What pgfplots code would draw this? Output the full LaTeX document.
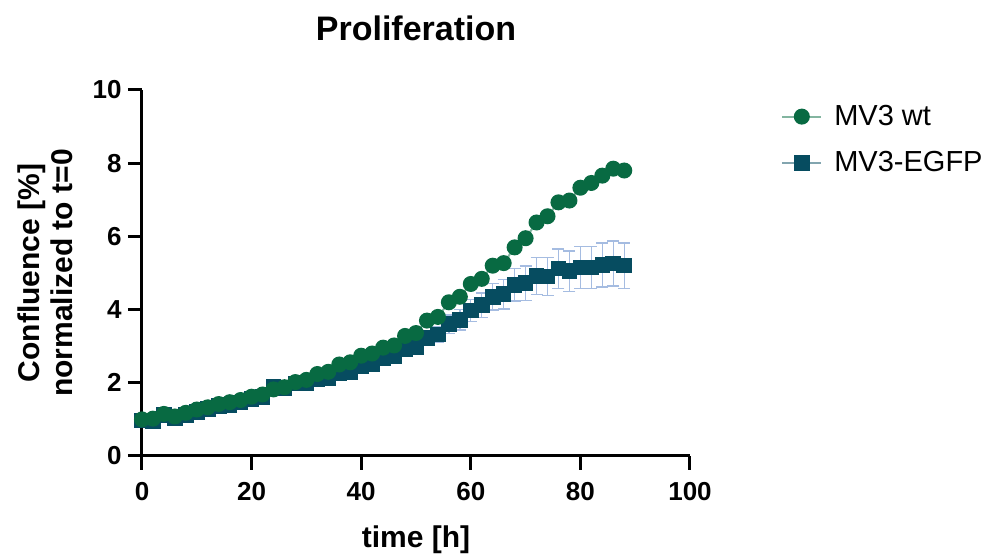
\documentclass[border=0pt]{standalone}
\usepackage{pgfplots}
\pgfplotsset{compat=1.18}
\usepackage{pgfplotstable}
\usepackage{fontspec}
\setmainfont{Liberation Sans}
\definecolor{wtgreen}{RGB}{8,106,66}
\definecolor{egfpblue}{RGB}{6,76,96}
\definecolor{errblue}{RGB}{165,188,225}

\pgfplotstableread{
t wt egfp err
0 1.00 0.97 0.03
2 1.02 0.95 0.03
4 1.15 1.12 0.03
6 1.08 1.02 0.03
8 1.18 1.12 0.03
10 1.27 1.20 0.03
12 1.33 1.28 0.03
14 1.42 1.36 0.03
16 1.47 1.40 0.03
18 1.53 1.46 0.03
20 1.62 1.56 0.04
22 1.68 1.62 0.04
24 1.82 1.90 0.04
26 1.88 1.86 0.04
28 2.02 1.98 0.05
30 2.08 2.00 0.05
32 2.24 2.10 0.05
34 2.30 2.12 0.05
36 2.50 2.26 0.06
38 2.56 2.30 0.06
40 2.74 2.45 0.08
42 2.80 2.52 0.09
44 2.96 2.66 0.10
46 3.02 2.72 0.12
48 3.28 2.92 0.14
50 3.36 2.98 0.16
52 3.70 3.22 0.19
54 3.80 3.32 0.22
56 4.20 3.60 0.25
58 4.35 3.72 0.28
60 4.70 3.98 0.30
62 4.84 4.12 0.33
64 5.20 4.35 0.36
66 5.27 4.42 0.40
68 5.70 4.68 0.44
70 5.95 4.72 0.47
72 6.38 4.92 0.50
74 6.55 4.90 0.52
76 6.93 5.12 0.54
78 6.98 5.05 0.55
80 7.33 5.15 0.57
82 7.46 5.15 0.58
84 7.66 5.22 0.60
86 7.85 5.26 0.61
88 7.80 5.20 0.62
}\data

\begin{document}
\begin{tikzpicture}
\useasboundingbox (-71pt,-50.5pt) rectangle (425pt,228pt);
\begin{axis}[
  width=274pt, height=183pt, scale only axis,
  xmin=0, xmax=100, ymin=0, ymax=10,
  axis x line*=bottom, axis y line*=left,
  axis line style={-, line width=1.5pt, black},
  xtick={0,20,...,100}, ytick={0,2,...,10},
  minor tick num=0,
  tick align=outside,
  major tick length=7pt,
  tick style={line width=1.5pt, black},
  /pgf/number format/assume math mode=true,
  ticklabel style={font=\bfseries\fontsize{13}{15}\selectfont},
  xticklabel style={inner sep=0pt, yshift=-6pt},
  yticklabel style={inner sep=0pt, xshift=-3pt},
  title={Proliferation},
  title style={at={(axis description cs:0.5,1)}, anchor=base, yshift=18.5pt,
    font=\bfseries\fontsize{17}{20}\selectfont},
  xlabel={time [h]},
  xlabel style={at={(axis description cs:0.5,0)}, anchor=base, yshift=-46pt,
    font=\bfseries\fontsize{15}{18}\selectfont},
  ylabel={Confluence [\%]\\normalized to t=0},
  ylabel style={at={(axis description cs:-0.126,0.5)}, anchor=south, inner sep=0pt,
    align=center, font=\bfseries\fontsize{15}{16.5}\selectfont},
  clip=false,
  reverse legend,
  legend style={at={(axis description cs:1.155,0.982)}, anchor=north west,
    draw=none, fill=none, font=\fontsize{14.5}{17}\selectfont,
    row sep=7.5pt, column sep=4pt},
  legend cell align=left,
  legend image code/.code={\draw[mark repeat=2,mark phase=2,#1] plot coordinates {(0pt,0pt) (9.75pt,0pt) (19.5pt,0pt)};},
]
\addplot[color=egfpblue!50, line width=1pt, mark=square*, mark size=3.4pt,
  mark options={fill=egfpblue, draw=egfpblue, solid},
  error bars/.cd, y dir=both, y explicit,
  error bar style={color=errblue, line width=0.7pt},
  error mark options={rotate=90, color=errblue, mark size=3pt, line width=0.7pt}]
  table[x=t, y=egfp, y error=err] {\data};
\addlegendentry{MV3-EGFP}
\addplot[color=wtgreen!50, line width=1pt, mark=*, mark size=3.5pt,
  mark options={fill=wtgreen, draw=wtgreen, solid}]
  table[x=t, y=wt] {\data};
\addlegendentry{MV3 wt}
\end{axis}
\end{tikzpicture}
\end{document}
